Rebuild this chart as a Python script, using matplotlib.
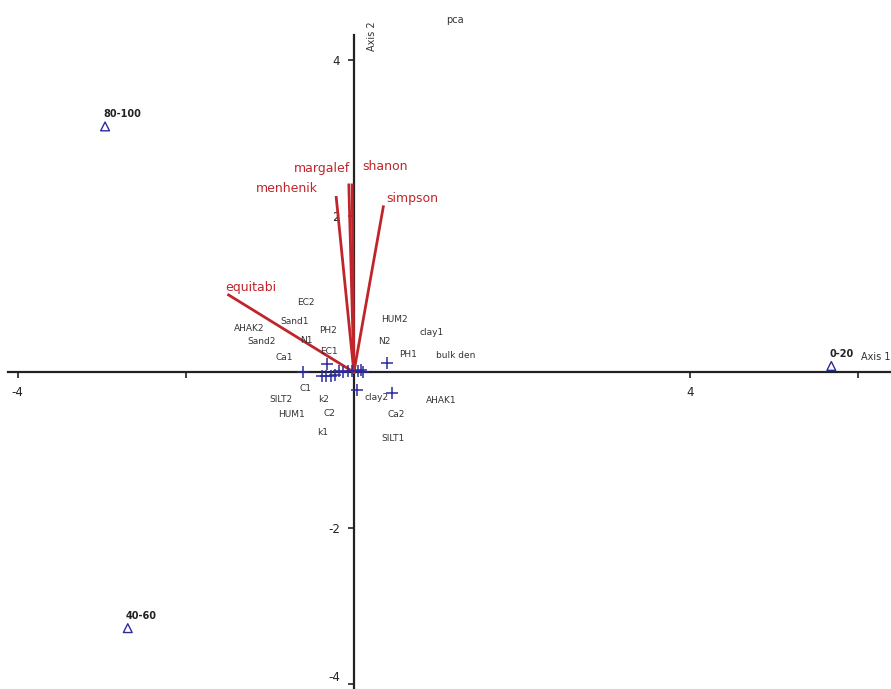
import matplotlib
matplotlib.use("Agg")
import matplotlib.pyplot as plt

# sample scores (depth groups)
groups = ["80-100", "40-60", "0-20"]
group_x = [-2.96, -2.69, 5.68]
group_y = [3.15, -3.28, 0.08]

# diversity index loadings (red vectors)
indices = ["equitabi", "menhenik", "margalef", "shanon", "simpson"]
index_x = [-1.49, -0.21, -0.06, -0.02, 0.35]
index_y = [0.99, 2.24, 2.40, 2.40, 2.12]
index_lab_x = [-1.23, -0.80, -0.38, 0.37, 0.69]
index_lab_y = [1.08, 2.35, 2.61, 2.63, 2.23]

# soil variable points (crosses)
var_x = [-0.60, -0.32, -0.38, -0.33, -0.27, -0.23, -0.18, -0.13, -0.07,
         0.05, 0.11, 0.04, 0.39, 0.45, 0.08, -0.02]
var_y = [0.00, 0.10, -0.05, -0.05, -0.05, -0.03, 0.01, 0.00, 0.01,
         0.01, 0.00, -0.23, 0.12, -0.27, 0.03, 0.02]

# soil variable labels
var_names = ["EC2", "Sand1", "AHAK2", "PH2", "N1", "Sand2", "EC1", "Ca1",
             "HUM2", "clay1", "N2", "PH1", "bulk den", "C1", "SILT2", "k2",
             "HUM1", "C2", "k1", "clay2", "AHAK1", "Ca2", "SILT1"]
name_x = [-0.57, -0.71, -1.25, -0.31, -0.57, -1.10, -0.30, -0.83,
          0.48, 0.92, 0.36, 0.64, 1.21, -0.58, -0.87, -0.36,
          -0.74, -0.29, -0.37, 0.27, 1.04, 0.50, 0.46]
name_y = [0.89, 0.65, 0.56, 0.54, 0.41, 0.39, 0.27, 0.19,
          0.67, 0.51, 0.39, 0.23, 0.22, -0.21, -0.35, -0.35,
          -0.54, -0.53, -0.77, -0.33, -0.36, -0.54, -0.85]

red = "#c0252b"
blue = "#2b2b9c"

fig = plt.figure(figsize=(8.91, 6.89), dpi=100)
ax = fig.add_axes([0, 0, 1, 1])
ax.set_xlim(-4.21, 6.39)
ax.set_ylim(-4.06, 4.77)

for s in ["top", "right"]:
    ax.spines[s].set_visible(False)
ax.spines["left"].set_position(("data", 0))
ax.spines["bottom"].set_position(("data", 0))
ax.spines["left"].set_bounds(-4.06, 4.32)
ax.spines["bottom"].set_bounds(-4.12, 6.39)
for s in ["left", "bottom"]:
    ax.spines[s].set_linewidth(1.6)
    ax.spines[s].set_color("#222222")
    ax.spines[s].set_zorder(1)

ax.set_xticks([-4, -2, 4, 6])
ax.set_xticklabels(["-4", "", "4", ""])
ax.set_yticks([-4, -2, 2, 4])
ax.set_yticklabels(["-4", "-2", "2", "4"])
ax.tick_params(axis="both", length=4, width=1.2, labelsize=8.5, colors="#222222", pad=6)
for lab in ax.get_yticklabels():
    if lab.get_text() == "-4":
        lab.set_va("bottom")

for x, y in zip(index_x, index_y):
    ax.plot([0, x], [0, y], color=red, lw=2.0, zorder=3)
for name, x, y in zip(indices, index_lab_x, index_lab_y):
    ax.text(x, y, name, color=red, fontsize=9, ha="center", va="center", zorder=4)

ax.scatter(var_x, var_y, marker="+", s=70, color=blue, linewidths=1.1, zorder=5)
for name, x, y in zip(var_names, name_x, name_y):
    ax.text(x, y, name, color="#333333", fontsize=6.5, ha="center", va="center", zorder=4)

ax.scatter(group_x, group_y, marker="^", s=40, facecolors="none", edgecolors=blue,
           linewidths=1.0, zorder=5)
for name, x, y in zip(groups, group_x, group_y):
    ax.text(x - 0.02, y + 0.09, name, fontsize=7, fontweight="bold", color="#222222",
            ha="left", va="bottom", zorder=4)

ax.text(6.03, 0.2, "Axis 1", fontsize=7, color="#333333", ha="left", va="center")
ax.text(0.22, 4.3, "Axis 2", fontsize=7, color="#333333", rotation=90, ha="center", va="center")
ax.text(1.2, 4.51, "pca", fontsize=7, color="#333333", ha="center", va="center")

fig.savefig("out.png", dpi=100)
